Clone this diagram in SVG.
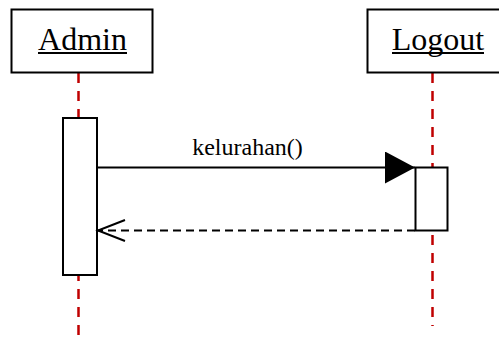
<svg xmlns="http://www.w3.org/2000/svg" width="499" height="340" viewBox="0 0 499 340">
<style>
.box{fill:#fff;stroke:#000;stroke-width:2}
.title{font-family:"Liberation Serif",serif;font-size:32px;fill:#000;text-anchor:middle}
.ul{stroke:#000;stroke-width:2}
.life{stroke:#c00000;stroke-width:2.5;stroke-dasharray:10 8;fill:none}
.msg{stroke:#000;stroke-width:2;fill:none}
.lbl{font-family:"Liberation Serif",serif;font-size:24px;fill:#000;text-anchor:middle}
</style>
<defs>
<marker id="filled" markerUnits="userSpaceOnUse" markerWidth="32" markerHeight="34" refX="30" refY="16" orient="auto">
<path d="M0,0 L30,16 L0,32 Z" fill="#000"/>
</marker>
<marker id="open" markerUnits="userSpaceOnUse" markerWidth="32" markerHeight="26" refX="28" refY="12" orient="auto">
<path d="M1,1.5 L28,12 L1,22.5" fill="none" stroke="#000" stroke-width="2"/>
</marker>
</defs>
<g id="lifelines">
<line class="life" x1="78.5" y1="73" x2="78.5" y2="340"/>
<line class="life" x1="432.5" y1="73" x2="432.5" y2="326"/>
</g>
<g id="admin">
<rect class="box" x="11.5" y="9.5" width="141" height="63"/>
<text class="title" x="82.5" y="50">Admin</text>
<line class="ul" x1="38" y1="53" x2="127" y2="53"/>
</g>
<g id="logout">
<rect class="box" x="367.5" y="9.5" width="141" height="63"/>
<text class="title" x="438" y="50">Logout</text>
<line class="ul" x1="392" y1="53" x2="484" y2="53"/>
</g>
<g id="admin-activation">
<rect class="box" x="63" y="118" width="34" height="157"/>
</g>
<g id="logout-activation">
<rect class="box" x="415.5" y="167.5" width="32" height="63"/>
</g>
<g id="connectors">
<line class="msg" x1="97" y1="167.5" x2="415" y2="167.5" marker-end="url(#filled)"/>
<text class="lbl" x="247.5" y="155">kelurahan()</text>
<line class="msg" x1="415" y1="230.5" x2="98" y2="230.5" stroke-dasharray="8 5" marker-end="url(#open)"/>
</g>
</svg>
